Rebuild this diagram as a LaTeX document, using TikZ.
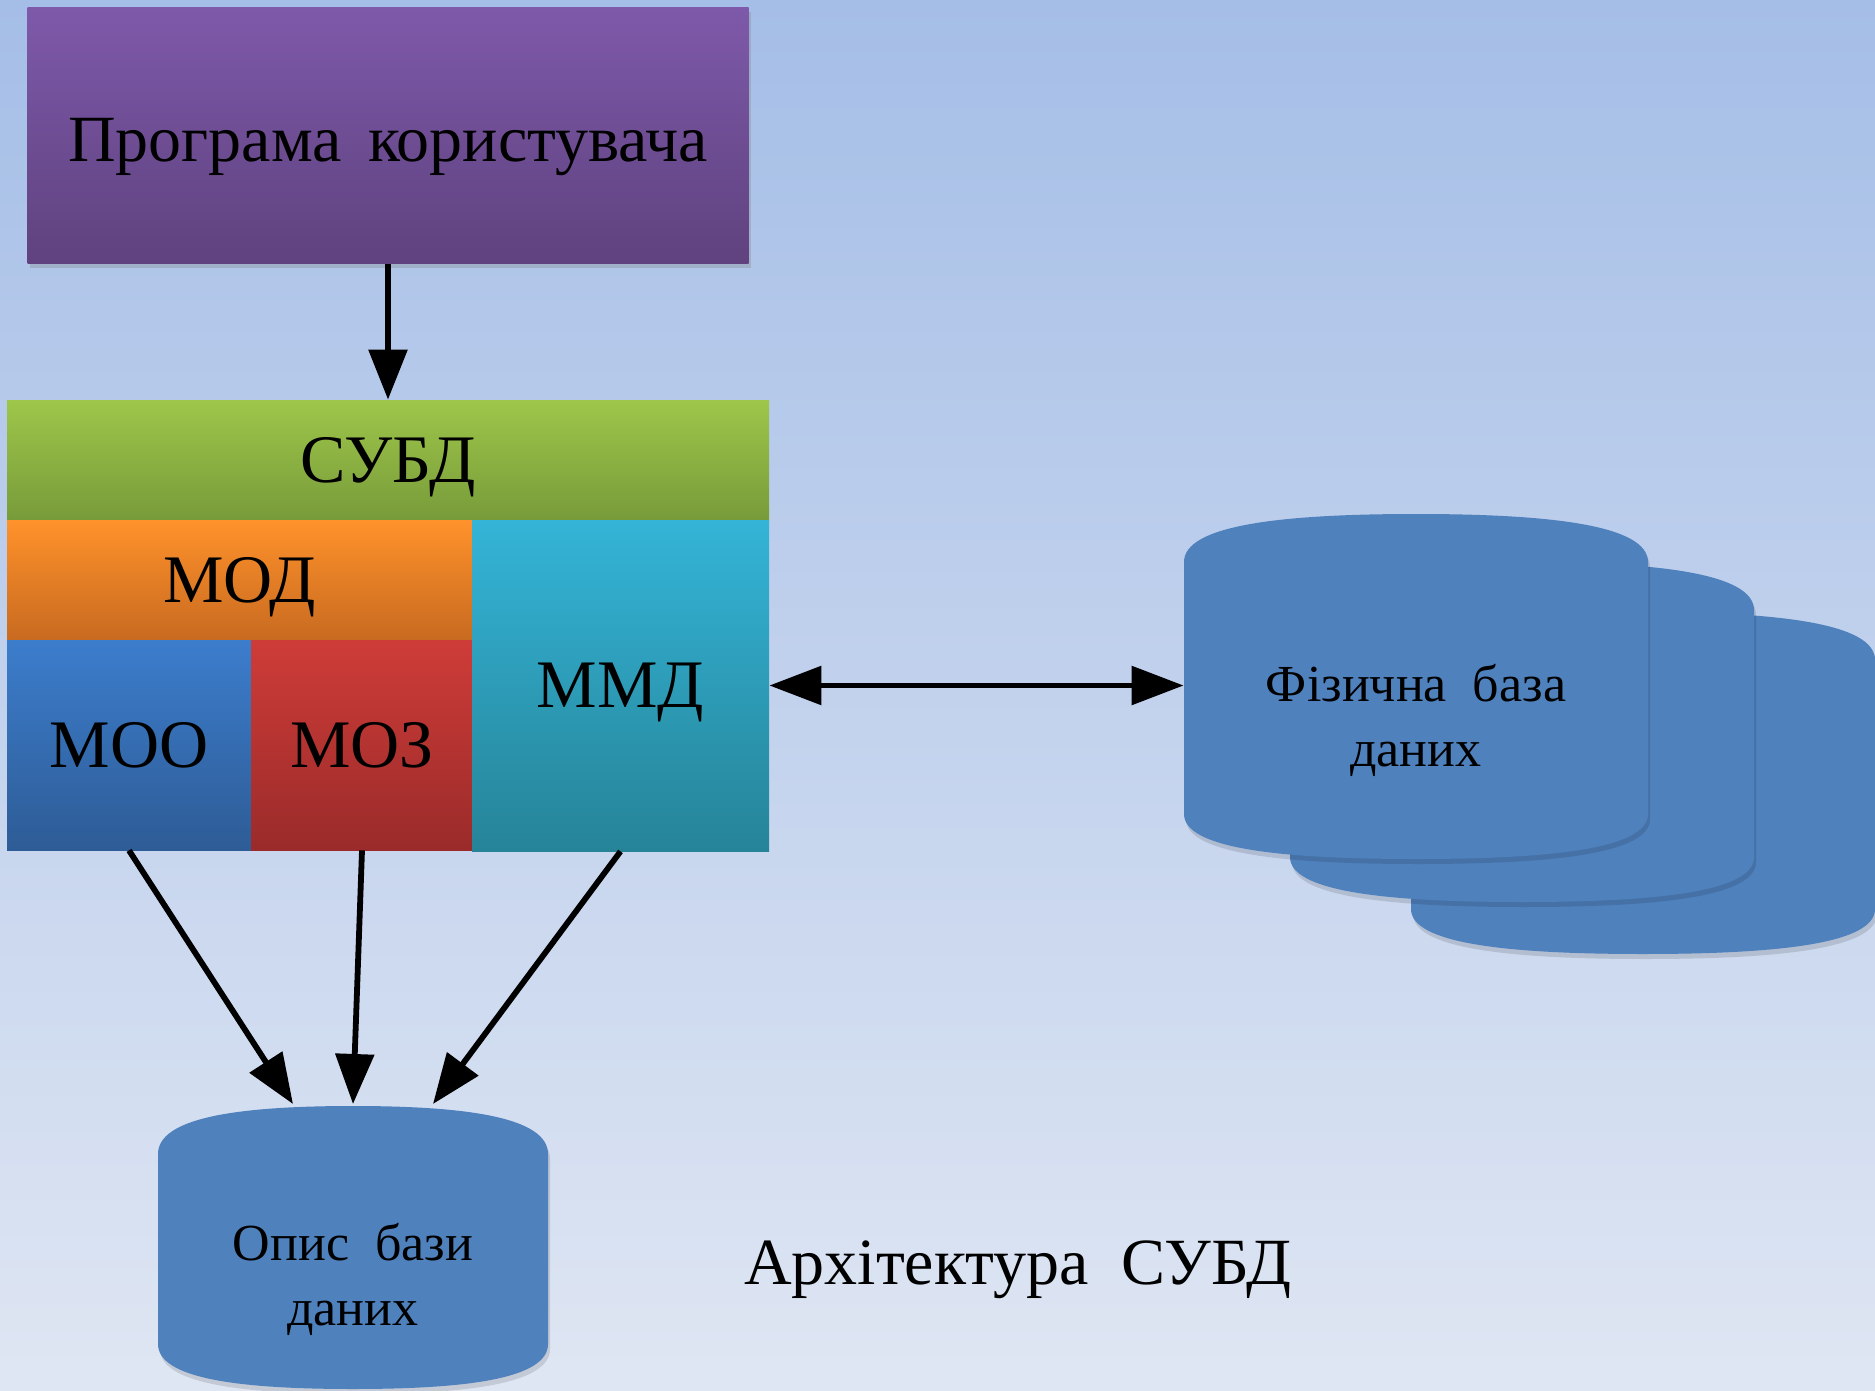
\documentclass[tikz,border=0pt]{standalone}
\usepackage{fontspec}
\setmainfont{Liberation Serif}
\usetikzlibrary{arrows.meta, shadows}

\definecolor{bgtop}{HTML}{A5BEE7}
\definecolor{bgbot}{HTML}{DFE6F3}
\definecolor{dbblue}{HTML}{4F81BD}

\tikzset{
  block/.style={rectangle, inner sep=0pt, text=black, text height=22pt, text depth=0pt, font=\fontsize{34}{40}\selectfont},
  arr/.style={line width=2.9pt, -{Triangle[length=25pt, width=19pt]}},
  dbtxt/.style={align=center, inner sep=0pt, font=\fontsize{26}{32.5}\selectfont}
}

% database can: left x, top y, width, height
\newcommand{\dbcan}[4]{%
  \pgfmathsetmacro\dxa{#1}\pgfmathsetmacro\dxb{#1+#3}\pgfmathsetmacro\dxm{#1+#3/2}
  \pgfmathsetmacro\dqa{#1+#3*0.2}\pgfmathsetmacro\dqb{#1+#3*0.8}
  \pgfmathsetmacro\dya{#2}\pgfmathsetmacro\dyb{#2+#4}
  \def\dbpath{(\dxa,\dya+48) .. controls (\dxa,\dya+12) and (\dqa,\dya) .. (\dxm,\dya)
    .. controls (\dqb,\dya) and (\dxb,\dya+12) .. (\dxb,\dya+48) -- (\dxb,\dyb-45)
    .. controls (\dxb,\dyb-11) and (\dqb,\dyb) .. (\dxm,\dyb)
    .. controls (\dqa,\dyb) and (\dxa,\dyb-11) .. (\dxa,\dyb-45) -- cycle}
  \fill[black, opacity=0.12, shift={(2,5)}] \dbpath;
  \fill[dbblue] \dbpath;
}

\begin{document}
\begin{tikzpicture}[x=0.5pt, y=-0.5pt]
  \shade[top color=bgtop, bottom color=bgbot] (0,0) rectangle (1875,1391);
  \useasboundingbox (0,0) rectangle (1875,1391);

  % user program and the DBMS blocks
  \node[block, font=\fontsize{33}{40}\selectfont, text height=26pt, minimum width=360.5pt, minimum height=128pt,
    top color={rgb,255:red,126;green,89;blue,170}, bottom color={rgb,255:red,95;green,66;blue,126},
    drop shadow={shadow xshift=1pt, shadow yshift=-2pt, opacity=0.3}] (prog) at (388,136) {Програма\hspace{0.4em}користувача};
  \node[block, minimum width=381pt, minimum height=60pt, top color={rgb,255:red,158;green,198;blue,74}, bottom color={rgb,255:red,120;green,155;blue,58}] (subd) at (388,460) {СУБД};
  \node[block, minimum width=232.5pt, minimum height=60pt, top color={rgb,255:red,255;green,146;blue,43}, bottom color={rgb,255:red,200;green,106;blue,32}] (mod) at (239.5,580) {МОД};
  \node[block, minimum width=122pt, minimum height=105pt, top color={rgb,255:red,60;green,125;blue,204}, bottom color={rgb,255:red,46;green,92;blue,150}] (moo) at (129,745) {МОО};
  \node[block, minimum width=111pt, minimum height=105pt, top color={rgb,255:red,206;green,60;blue,56}, bottom color={rgb,255:red,154;green,43;blue,42}] (moz) at (362,745) {МОЗ};
  \node[block, minimum width=148.5pt, minimum height=165.5pt, top color={rgb,255:red,52;green,180;blue,215}, bottom color={rgb,255:red,38;green,132;blue,152}] (mmd) at (620.5,685.5) {ММД};

  % physical database: three cans
  \dbcan{1411}{612}{464}{342}
  \dbcan{1290}{562}{464}{340}
  \dbcan{1184}{514}{464}{345}
  \node[dbtxt, minimum width=232pt] (physdb) at (1416,720) {Фізична\ \ база\\даних};

  % description of the database
  \dbcan{158}{1106}{390}{283}
  \coordinate (opistop) at (353,1104);
  \node[dbtxt] (opis) at (353,1279) {Опис\ \ бази\\даних};

  \node[font=\fontsize{33}{40}\selectfont] (title) at (1018,1270) {Архітектура\ \ СУБД};

  % arrows
  \draw[arr] (prog.south) -- (subd.north);
  \draw[line width=2.9pt, {Triangle[length=26pt, width=19pt]}-{Triangle[length=26pt, width=19pt]}] (mmd.east) -- (mmd.east -| physdb.west);
  \draw[arr] (moo.south) -- ([xshift=-30pt]opistop);
  \draw[arr] (moz.south) -- (opistop);
  \draw[arr] (mmd.south) -- ([xshift=40pt]opistop);
\end{tikzpicture}
\end{document}
